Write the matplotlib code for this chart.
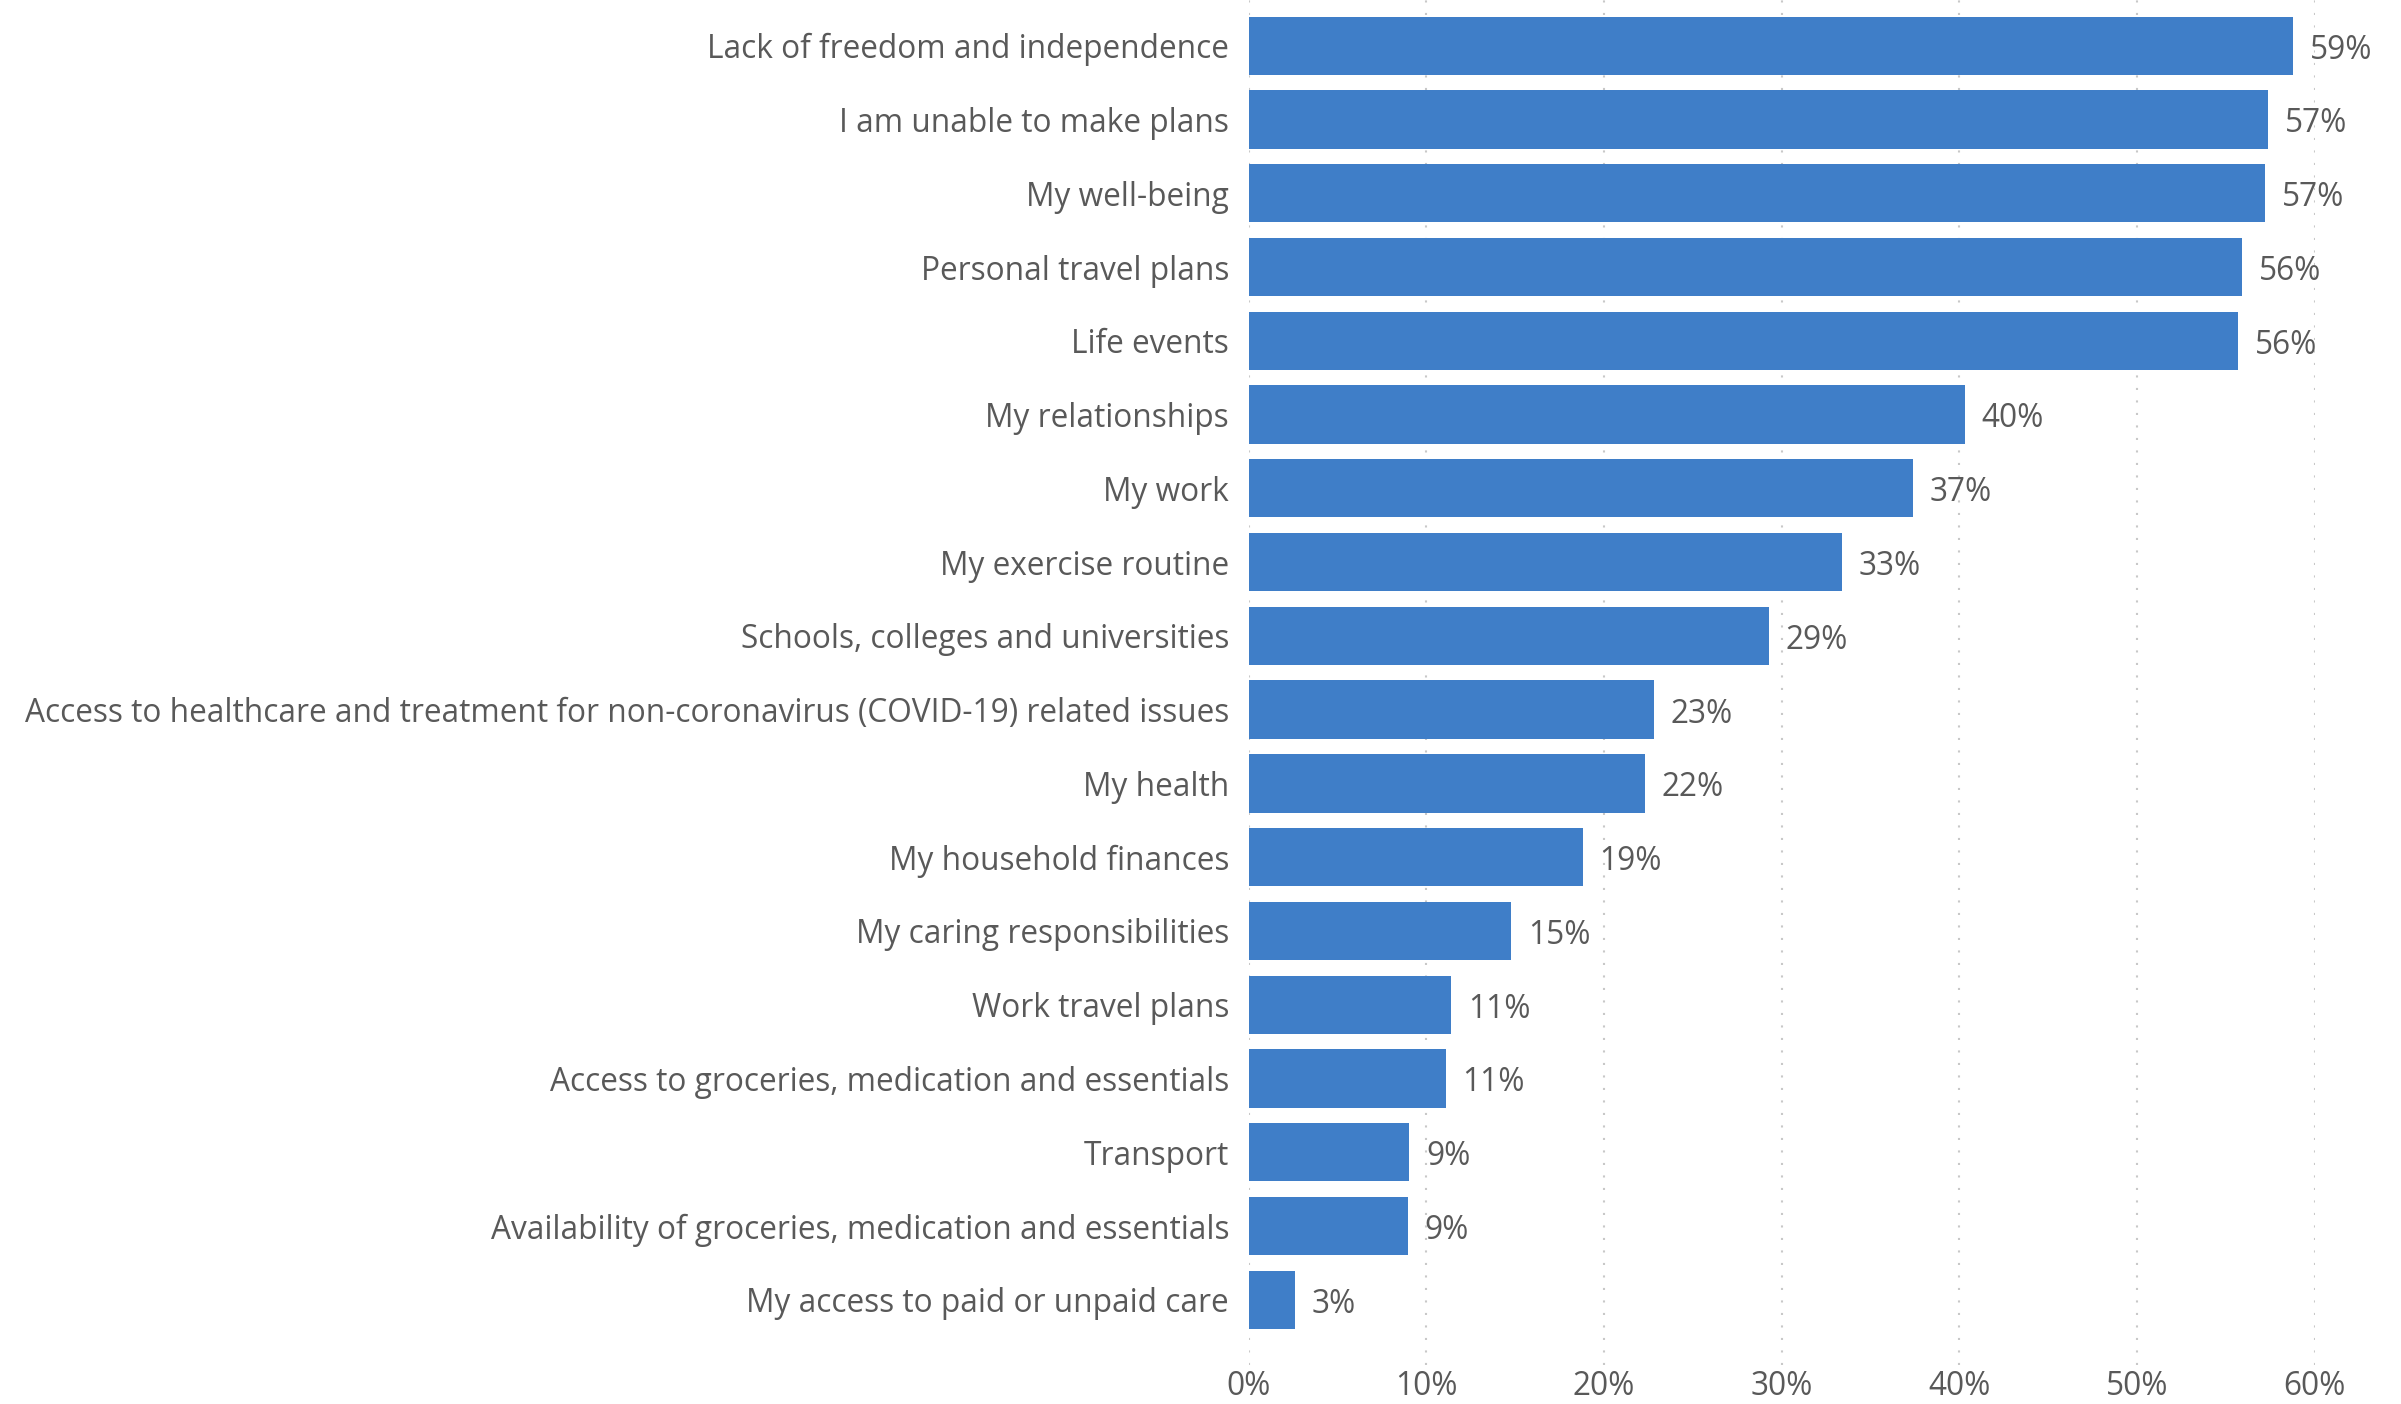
import matplotlib
matplotlib.use("Agg")
import matplotlib.pyplot as plt
from matplotlib.ticker import FuncFormatter

categories = [
    "Lack of freedom and independence",
    "I am unable to make plans",
    "My well-being",
    "Personal travel plans",
    "Life events",
    "My relationships",
    "My work",
    "My exercise routine",
    "Schools, colleges and universities",
    "Access to healthcare and treatment for non-coronavirus (COVID-19) related issues",
    "My health",
    "My household finances",
    "My caring responsibilities",
    "Work travel plans",
    "Access to groceries, medication and essentials",
    "Transport",
    "Availability of groceries, medication and essentials",
    "My access to paid or unpaid care",
]
values = [58.8, 57.4, 57.2, 55.9, 55.7, 40.3, 37.4, 33.4, 29.3, 22.8, 22.3, 18.8,
          14.8, 11.4, 11.1, 9.05, 8.97, 2.6]
xticks = [0, 10, 20, 30, 40, 50, 60]

plt.rcParams['font.family'] = ['Open Sans', 'DejaVu Sans']
text_color = "#595959"
bar_color = "#3F7EC8"
fs = 22.8

fig = plt.figure(figsize=(24.01, 14.04), dpi=100)
ax = fig.add_axes([0.520, 0.028, 0.444, 0.972])

y = list(range(len(categories)))
ax.barh(y, values, height=0.79, color=bar_color, zorder=2)
for yi, v in zip(y, values):
    ax.text(v + 0.95, yi + 0.06, f"{round(v)}%", va="center", ha="left",
            fontsize=fs, color=text_color)

ax.set_yticks(y)
ax.set_yticklabels(categories, fontsize=fs, color=text_color)
ax.set_ylim(17.88, -0.62)
ax.set_xlim(0, 60)
ax.set_xticks(xticks)
ax.xaxis.set_major_formatter(FuncFormatter(lambda v, p: f"{int(v)}%"))
ax.tick_params(axis="x", labelsize=fs, labelcolor=text_color, length=0, pad=4)
ax.tick_params(axis="y", length=0, pad=14)
ax.grid(axis="x", color="#c8c8c8", linestyle=(0, (1, 5)), linewidth=1.5, zorder=0)
ax.set_axisbelow(True)
for s in ax.spines.values():
    s.set_visible(False)

fig.savefig("out.png", dpi=100)
